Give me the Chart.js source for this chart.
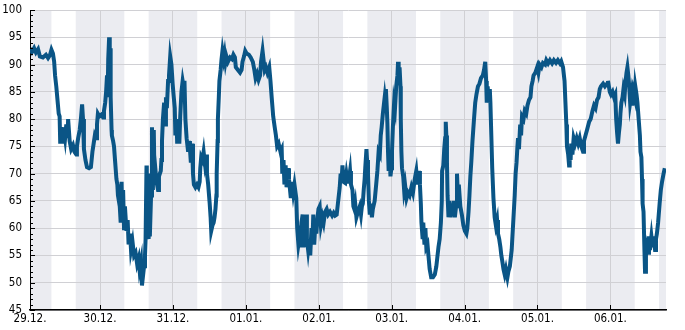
<!DOCTYPE html>
<html>
<head>
<meta charset="utf-8">
<script src="https://cdn.jsdelivr.net/npm/chart.js@4.4.1/dist/chart.umd.min.js"></script>
<style>
  html, body { margin: 0; padding: 0; background: #fff; }
  #chart { display: block; }
</style>
</head>
<body>
<canvas id="chart" width="685" height="330"></canvas>
<script>
"use strict";

// hours since 29.12. 00:00
var hours = [
  0.95,1.6,2.3,2.9,3.6,4.2,5.2,6.2,6.9,7.5,
  8.0,8.5,8.9,9.2,9.6,10.0,10.4,10.7,10.9,11.3,
  11.7,12.0,12.5,12.9,13.3,13.5,14.0,14.5,15.1,15.6,
  16.2,16.4,16.8,17.3,17.7,18.1,18.4,18.7,19.2,19.7,
  20.4,21.0,21.5,21.9,22.3,22.7,23.0,23.3,23.8,24.4,
  25.0,25.3,25.7,26.0,26.3,26.5,26.7,27.0,27.2,27.4,
  27.5,27.8,27.9,28.3,28.6,29.0,29.4,29.7,29.9,30.5,
  30.8,31.1,31.3,31.6,31.9,32.2,32.7,33.1,33.4,33.9,
  34.2,34.7,35.2,35.7,36.2,36.7,37.0,37.5,37.8,38.2,
  38.5,38.8,39.0,39.3,39.4,39.8,40.0,40.3,40.4,40.8,
  41.1,41.4,41.7,41.9,42.2,42.6,43.1,43.4,44.0,44.2,
  44.4,44.7,45.1,45.4,45.7,46.0,46.4,46.7,47.1,47.5,
  47.9,48.2,48.6,48.8,49.2,49.4,49.8,50.1,50.4,50.8,
  51.2,51.5,51.8,52.1,52.5,53.0,53.3,53.6,53.9,54.3,
  54.6,54.9,55.4,55.9,56.4,56.8,57.0,57.3,57.7,58.1,
  58.5,58.9,59.2,59.6,60.1,60.4,60.6,61.0,61.4,61.7,
  62.0,62.3,62.4,62.7,62.8,63.1,63.3,63.7,64.0,64.3,
  64.7,65.0,65.3,65.6,66.1,66.8,67.4,67.9,68.4,68.7,
  69.4,70.1,70.6,70.9,71.4,71.8,72.3,73.0,73.6,74.3,
  74.8,75.2,75.7,76.2,76.7,77.0,77.5,77.8,78.2,78.6,
  79.1,79.7,80.1,80.5,81.0,81.5,81.9,82.3,82.8,83.4,
  83.8,84.0,84.4,84.7,85.1,85.4,85.9,86.2,86.8,87.2,
  87.6,88.0,88.6,88.9,89.3,89.7,90.0,90.3,90.7,90.9,
  91.3,91.6,91.9,92.1,92.5,92.9,93.2,93.6,93.9,94.2,
  94.5,94.9,95.2,95.6,95.9,96.3,96.7,97.2,97.6,98.1,
  98.6,99.1,99.7,100.4,100.9,101.4,101.9,102.3,102.9,103.2,
  103.5,103.8,104.2,104.7,105.1,105.5,105.8,106.3,106.6,107.1,
  107.4,107.7,108.0,108.4,108.9,109.5,109.9,110.2,110.5,110.8,
  111.1,111.3,111.7,111.9,112.2,112.5,112.8,113.1,113.5,113.8,
  114.4,114.9,115.3,115.7,116.1,116.4,116.7,117.1,117.4,117.7,
  117.9,118.1,118.4,118.6,118.8,119.0,119.4,119.6,119.9,120.1,
  120.4,120.8,121.1,121.5,121.9,122.1,122.3,122.6,122.9,123.0,
  123.2,123.4,123.8,124.1,124.4,124.9,125.4,125.9,126.5,127.0,
  127.6,128.1,128.5,129.0,129.3,129.6,129.8,130.2,130.4,130.8,
  131.1,131.4,131.8,132.1,132.5,133.0,133.6,134.2,134.7,135.1,
  135.4,135.8,136.2,136.5,136.6,137.0,137.3,137.6,137.8,138.0,
  138.2,138.4,138.7,139.0,139.4,139.7,140.0,140.5,140.8,141.2,
  141.5,141.8,142.1,142.6,143.1,143.6,144.1,144.6,144.9,145.3,
  145.6,145.9,146.2,146.6,147.1,147.5,147.9,148.4,148.9,149.4,
  150.0,150.4,150.8,151.1,151.3,151.6,151.9,152.3,152.5,152.8,
  153.1,153.5,153.9,154.3,154.7,155.0,155.4,155.8,156.1,156.4,
  156.8,157.2,157.6,158.1,158.4,158.6,158.9,159.2,159.5,159.7,
  160.1,160.5,160.8,161.1,161.4,161.6,161.9,162.3,162.6,162.9,
  163.4,163.8,164.3,164.7,165.2,165.7,166.0,166.4,166.7,167.3,
  167.9,168.3,168.7,169.3,169.8,170.5,170.9,171.5,172.1,172.8,
  173.4,174.1,174.7,175.4,175.8,176.4,176.9,177.2,177.5,177.7,
  178.1,178.4,178.6,178.9,179.1,179.5,179.9,180.4,180.9,181.4,
  181.9,182.4,183.0,183.3,183.8,184.3,185.0,185.5,186.1,186.6,
  187.1,187.6,188.1,188.5,188.9,189.6,190.2,190.9,191.2,191.8,
  192.2,192.7,193.2,193.6,193.9,194.2,194.5,194.8,195.1,195.3,
  195.6,196.0,196.3,196.7,197.0,197.3,197.6,197.9,198.2,198.5,
  198.9,199.2,199.6,200.0,200.2,200.6,200.9,201.3,201.7,201.9,
  202.2,202.4,202.6,202.9,203.2,203.4,203.7,204.0,204.4,204.7,
  205.0,205.5,205.9,206.2,206.7,207.0,207.3,207.7,208.2,208.6,
  209.0,209.5,209.9
];

var values = [
  93.0,92.3,93.0,92.2,92.8,91.5,91.3,91.8,91.2,91.7,
  92.7,92.0,90.5,88.0,86.0,83.5,81.0,80.5,75.5,78.5,
  75.5,78.5,76.5,79.0,76.5,80.0,76.0,74.5,75.2,74.0,
  73.5,75.0,76.5,78.0,80.0,82.7,80.0,74.5,72.5,71.2,
  71.0,71.2,74.0,75.5,77.0,76.5,79.0,81.0,80.5,80.8,
  80.3,81.5,83.0,85.0,88.0,84.0,91.0,95.0,84.0,93.0,
  84.0,78.0,77.0,76.0,75.0,72.0,69.0,68.0,66.0,64.0,
  61.0,68.5,62.0,67.0,60.0,64.0,59.5,61.5,57.0,59.0,
  56.0,57.5,55.0,55.5,53.5,54.5,52.5,54.0,49.5,51.5,
  53.0,55.0,58.0,71.5,58.0,70.0,58.0,68.0,58.5,66.0,
  78.5,67.0,78.0,70.0,71.0,68.5,67.0,69.5,70.5,72.5,
  76.0,80.0,83.0,79.0,84.0,82.0,87.0,88.0,91.5,90.0,
  86.5,84.5,82.0,77.0,80.0,75.5,78.0,75.5,80.5,85.0,
  87.0,86.0,87.0,80.0,76.5,74.0,76.0,74.5,72.0,75.5,
  70.0,68.0,67.5,68.0,67.5,68.5,71.0,73.0,72.5,74.0,
  72.0,73.5,70.0,68.0,64.5,62.0,59.5,60.5,61.0,62.0,
  63.5,66.0,70.0,76.0,80.0,84.0,87.0,89.0,91.0,92.5,
  91.0,92.0,90.5,91.5,90.5,91.3,91.0,91.8,91.3,89.5,
  89.0,88.5,89.0,90.5,91.5,92.5,92.0,91.8,91.3,90.5,
  89.0,87.5,88.3,87.2,88.0,90.5,92.5,91.0,89.0,89.5,
  88.5,89.5,87.0,84.0,80.5,78.5,77.0,75.0,75.5,74.0,
  74.5,70.0,72.5,68.0,71.5,67.5,71.0,69.0,65.5,68.5,
  66.5,68.0,65.5,60.0,57.0,58.5,56.5,61.0,62.5,56.5,
  60.0,56.5,62.5,58.0,56.0,58.0,55.0,60.0,57.0,62.5,
  57.0,61.0,59.0,62.0,63.5,64.0,60.5,62.0,61.0,63.0,
  63.5,62.5,63.0,62.3,62.8,62.3,62.5,64.5,67.5,70.0,
  68.5,71.5,68.5,68.3,70.0,68.5,68.5,70.5,68.0,67.0,
  64.0,63.5,64.5,62.0,63.0,64.0,62.5,64.0,64.5,67.0,
  69.0,71.0,74.5,72.5,70.0,65.0,62.5,64.5,62.0,63.5,
  65.0,68.0,70.5,74.0,73.5,77.0,78.5,81.0,82.5,84.0,
  83.0,85.5,82.0,79.0,74.0,70.5,72.5,69.5,71.0,74.0,
  78.5,83.0,82.0,86.0,88.0,90.5,87.5,89.5,86.0,80.0,
  74.0,71.0,69.5,67.0,68.0,65.5,66.5,66.0,67.5,66.5,
  69.0,70.5,68.0,70.5,68.0,64.5,61.0,58.0,61.0,57.0,
  60.0,56.5,57.0,55.0,52.5,51.0,51.0,51.5,53.0,55.0,
  56.5,58.0,61.0,65.0,70.5,71.5,74.5,76.5,79.5,77.0,
  72.0,66.0,62.0,65.0,62.0,64.5,62.5,65.0,62.0,64.0,
  70.0,66.0,68.0,64.0,62.5,60.5,59.5,59.0,60.0,63.0,
  66.0,69.5,72.0,76.0,80.0,83.0,84.5,86.0,86.5,87.5,
  88.0,89.0,90.5,87.0,83.0,86.0,83.0,85.5,83.0,77.0,
  71.0,65.5,62.0,60.5,61.5,59.0,58.0,56.5,55.0,54.0,
  52.5,51.5,52.5,51.0,52.0,52.0,53.0,54.5,56.0,58.0,
  62.0,66.0,70.0,72.0,75.0,76.5,74.5,79.0,77.0,80.5,
  80.0,81.5,81.0,82.5,83.5,84.0,86.0,87.0,88.0,88.5,
  89.5,88.5,90.0,89.5,90.3,90.0,90.8,90.2,90.8,90.2,
  90.8,90.3,90.8,90.2,90.6,89.5,87.0,83.0,79.0,75.0,
  73.5,71.5,74.0,72.5,75.5,73.5,76.5,75.5,76.5,75.5,
  76.5,75.0,74.0,76.0,77.0,78.0,79.5,80.0,81.5,82.5,
  82.0,83.5,84.0,85.5,86.0,86.5,86.0,86.5,87.0,85.0,
  84.5,85.0,84.0,84.5,80.0,77.5,75.5,77.5,79.0,81.0,
  83.0,84.0,85.5,84.5,87.0,88.5,89.5,88.0,86.0,83.0,
  84.5,82.5,85.0,84.0,86.0,84.5,83.0,80.0,77.0,74.0,
  73.0,69.0,64.5,63.0,56.0,52.0,55.0,56.5,55.5,58.5,
  56.0,58.5,56.5,58.5,56.0,58.0,59.0,61.0,64.5,67.0,
  68.5,70.0,71.0
];

// x axis: day ticks and labels
var tickHours = [0.95, 24, 48, 72, 96, 120, 144, 168, 192];
var dayLabels = ["29.12.", "30.12.", "31.12.", "01.01.", "02.01.", "03.01.", "04.01.", "05.01.", "06.01."];

// shaded night periods (16:00 - 08:00), in hours
var nightBands = [[0, 8], [16, 32], [40, 56], [64, 80], [88, 104], [112, 128], [136, 152], [160, 176], [184, 200], [208, 224]];

var xMin = 0.95, xMax = 210.3;
var yMin = 45, yMax = 100;

var points = [];
for (var i = 0; i < Math.min(hours.length, values.length); i++) {
	points.push({ x: hours[i], y: values[i] });
}

var FONT = "'DejaVu Sans Condensed', 'DejaVu Sans', sans-serif";

// night shading behind grid
var bandsPlugin = {
	id: "bands",
	beforeDraw: function(chart) {
		var ctx = chart.ctx, area = chart.chartArea, xs = chart.scales.x;
		ctx.save();
		ctx.fillStyle = "#ebecf1";
		nightBands.forEach(function(b) {
			var x1 = Math.max(xs.getPixelForValue(b[0]), area.left);
			var x2 = Math.min(xs.getPixelForValue(b[1]), area.right);
			if (x2 > x1) ctx.fillRect(x1, area.top, x2 - x1, area.bottom - area.top);
		});
		ctx.restore();
	}
};

// inner tick marks (minor on y, day ticks on x)
var ticksPlugin = {
	id: "innerTicks",
	afterDraw: function(chart) {
		var ctx = chart.ctx, area = chart.chartArea;
		var xs = chart.scales.x, ys = chart.scales.y;
		ctx.save();
		ctx.strokeStyle = "#000";
		ctx.lineWidth = 1;
		ctx.beginPath();
		for (var v = yMin; v <= yMax; v++) {
			var y = Math.round(ys.getPixelForValue(v)) + 0.5;
			var len = (v % 5 === 0) ? 5 : 3;
			ctx.moveTo(area.left, y);
			ctx.lineTo(area.left + len, y);
		}
		tickHours.forEach(function(h, i) {
			if (i === 0) return;
			var x = Math.round(xs.getPixelForValue(h)) + 0.5;
			ctx.moveTo(x, area.bottom);
			ctx.lineTo(x, area.bottom - 5);
		});
		ctx.stroke();
		ctx.restore();
	}
};

var ctx = document.getElementById("chart").getContext("2d");
var chart = new Chart(ctx, {
	type: "line",
	data: {
		datasets: [{
			data: points,
			borderColor: "#0a5586",
			borderWidth: 4,
			borderJoinStyle: "miter",
			pointRadius: 0,
			tension: 0,
			fill: false
		}]
	},
	options: {
		responsive: false,
		animation: false,
		layout: { padding: { left: 0, top: 10, right: 19, bottom: 0 } },
		plugins: { legend: { display: false }, tooltip: { enabled: false } },
		scales: {
			x: {
				type: "linear",
				min: xMin,
				max: xMax,
				afterBuildTicks: function(scale) {
					scale.ticks = tickHours.map(function(h) { return { value: h }; });
				},
				afterFit: function(scale) {
					scale.height = 20;
					scale.paddingLeft = 0;
					scale.paddingRight = 0;
				},
				ticks: {
					autoSkip: false,
					maxRotation: 0,
					padding: 2,
					color: "#000",
					font: { family: FONT, size: 11.5 },
					callback: function(value) {
						var idx = tickHours.indexOf(value);
						return idx >= 0 ? dayLabels[idx] : "";
					}
				},
				grid: { color: "#d0d0d4", drawTicks: false, lineWidth: 1 },
				border: { color: "#000", width: 1.5 }
			},
			y: {
				min: yMin,
				max: yMax,
				afterFit: function(scale) {
					scale.width = 30;
					scale.paddingTop = 0;
					scale.paddingBottom = 0;
				},
				ticks: {
					stepSize: 5,
					padding: 8,
					color: "#000",
					font: { family: FONT, size: 11.5 }
				},
				grid: { color: "#d0d0d4", drawTicks: false, lineWidth: 1 },
				border: { color: "#000", width: 1 }
			}
		}
	},
	plugins: [bandsPlugin, ticksPlugin]
});
</script>
</body>
</html>
